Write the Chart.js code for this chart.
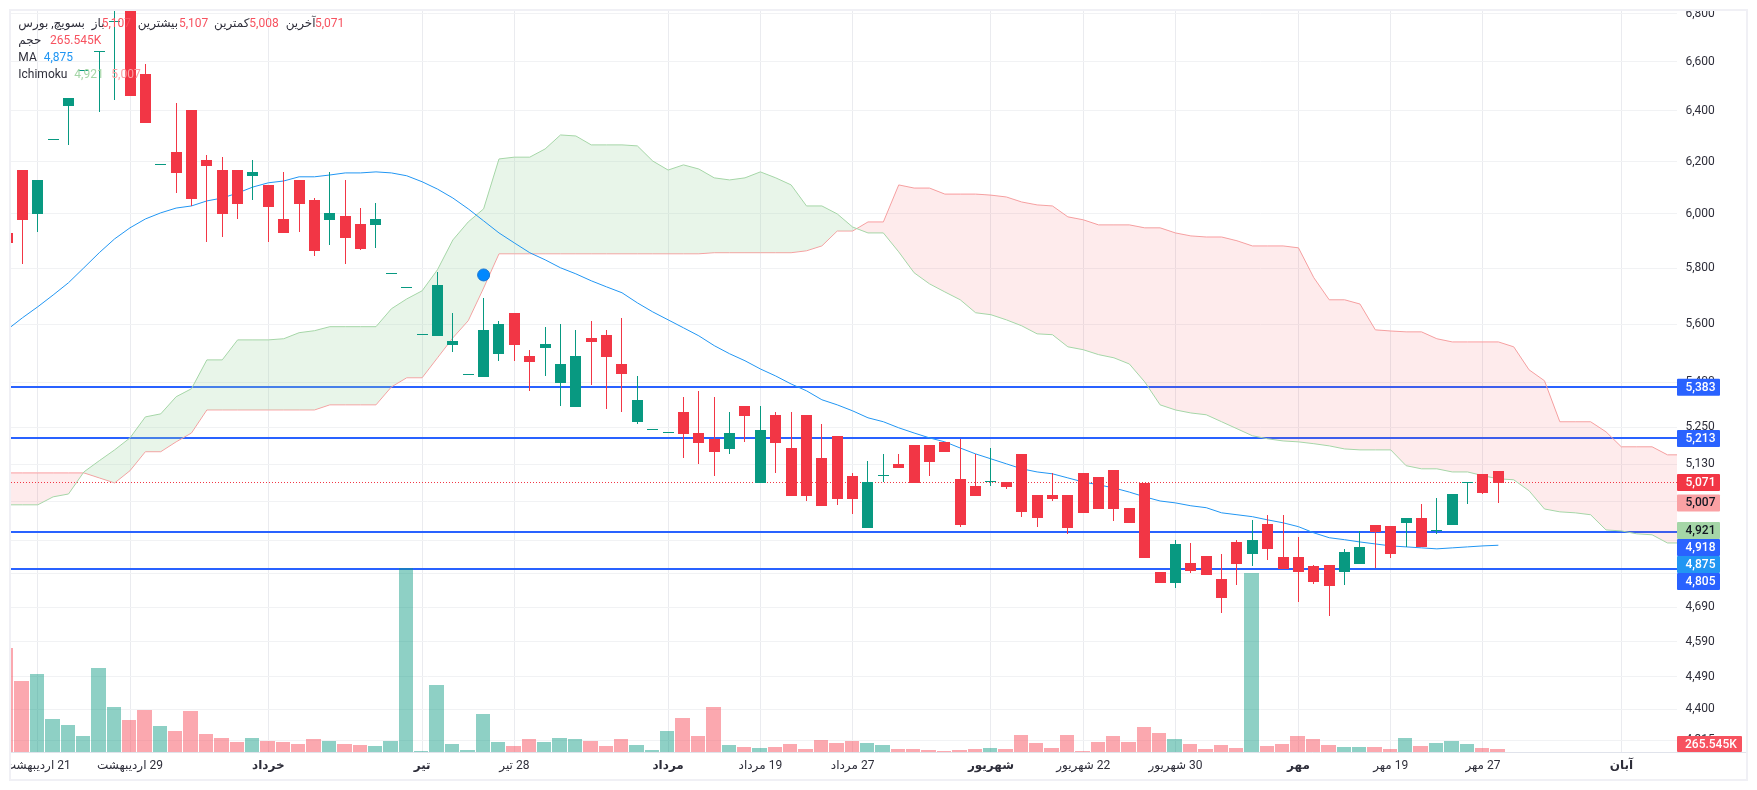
<!DOCTYPE html>
<html>
<head>
<meta charset="utf-8">
<style>
  html, body { margin: 0; padding: 0; background: #fff; }
  canvas { display: block; }
</style>
<script src="https://cdn.jsdelivr.net/npm/chart.js@4"></script>
</head>
<body>
<canvas id="priceChart" width="1757" height="790" dir="rtl"></canvas>
<script>
/* ----- candles, index 0 is the half hidden one on the left edge ----- */
const opens = [5929,6167,6000,6283,6420,6561,6639,6765,6900,6549,6185,6237,6403,6206,6167,6167,6145,6110,5981,6129,
  6052,5978,5993,5963,5959,5778,5728,5562,5559,5528,5424,5418,5497,5640,5490,5518,5398,5317,5552,5563,
  5462,5268,5241,5230,5301,5231,5212,5179,5321,5070,5291,5182,5291,5150,5222,5093,4930,5092,5131,5192,
  5192,5202,5083,5061,5072,5073,5163,5032,5032,5032,5102,5089,5112,4992,5070,4795,4763,4823,4844,4774,
  4886,4850,4942,4841,4841,4814,4817,4795,4820,4939,4936,4945,4961,4921,4939,5069,5099,5107];
const highs = [5960,6167,6129,6283,6452,6561,6639,6860,6900,6590,6185,6432,6403,6225,6217,6167,6206,6110,6160,6129,
  6060,6160,6129,6022,6041,5778,5728,5562,5786,5640,5424,5693,5612,5640,5511,5590,5601,5580,5612,5580,
  5622,5421,5241,5230,5351,5371,5351,5301,5321,5321,5301,5301,5291,5261,5222,5102,5141,5163,5163,5192,
  5192,5202,5212,5163,5182,5073,5163,5032,5102,5032,5102,5089,5112,4992,5070,4795,4893,4883,4844,4850,
  4893,4954,4970,4970,4902,4817,4817,4865,4920,4939,4936,4961,5004,5023,5035,5069,5099,5107];
const lows = [5870,5816,5933,6283,6265,6561,6396,6444,6460,6351,6185,6079,6030,5896,5914,5981,6052,5896,5929,5933,
  5845,5885,5816,5867,5874,5778,5728,5562,5559,5504,5424,5418,5473,5473,5371,5421,5321,5317,5391,5311,
  5301,5261,5241,5230,5150,5131,5093,5163,5202,5070,5102,5029,5013,4998,5001,4973,4930,5073,5118,5070,
  5093,5170,4933,5029,5061,5051,4964,4933,5013,4911,4976,4988,4951,4945,4838,4763,4748,4792,4786,4674,
  4757,4814,4832,4804,4706,4760,4665,4757,4820,4807,4838,4871,4871,4911,4939,5004,5035,5008];
const closes = [5892,5978,6129,6283,6452,6561,6639,6765,6460,6351,6185,6156,6056,6183,6000,6037,6160,6026,5929,6037,
  5863,6004,5910,5870,5981,5778,5728,5562,5739,5542,5424,5580,5601,5528,5469,5531,5462,5490,5538,5487,
  5428,5341,5241,5230,5228,5199,5170,5231,5287,5241,5199,5029,5029,4998,5019,5019,5073,5092,5118,5070,
  5137,5170,4939,5029,5072,5058,4979,4961,5019,4930,4976,4988,4988,4945,4838,4763,4880,4798,4786,4718,
  4820,4893,4865,4804,4795,4766,4754,4856,4871,4917,4850,4961,4871,4921,5035,5069,5038,5071];

/* ----- volume in thousands ----- */
const volumes = [9204,6284,6903,2921,2390,1416,7434,3983,2832,3717,2301,1859,3629,1593,1239,885,1239,974,885,708,
  1151,974,708,620,531,974,16314,89,5930,708,177,3363,885,531,1151,885,1239,1151,974,531,
  1151,620,177,1859,3009,1416,3983,620,443,354,443,708,266,1062,797,974,797,620,266,266,
  177,89,177,266,354,266,1505,797,354,1505,89,885,1416,885,2213,1682,1151,708,266,620,
  354,15842,531,708,1416,1151,620,443,443,443,266,1239,531,797,974,708,354,265.545];

/* ----- moving average ----- */
const maValues = [5580,5622,5661,5703,5747,5801,5856,5907,5948,5981,6004,6022,6030,6049,6060,6079,6102,6118,6125,6141,
  6141,6148,6156,6156,6160,6156,6145,6122,6094,6060,6019,5974,5929,5892,5856,5830,5801,5779,5754,5732,
  5711,5675,5643,5615,5587,5559,5525,5497,5473,5445,5421,5394,5371,5341,5324,5304,5281,5268,5248,5231,
  5215,5202,5182,5163,5147,5131,5115,5105,5099,5086,5073,5064,5054,5041,5026,5013,5007,4998,4992,4976,
  4970,4964,4954,4945,4933,4914,4899,4893,4886,4880,4874,4871,4868,4865,4868,4871,4874,4876];

/* ----- ichimoku cloud, runs ahead of the candles ----- */
const senkouA = [5001,5001,5001,5026,5035,5105,5141,5176,5215,5284,5294,5351,5378,5476,5476,5545,5545,5545,5549,5570,
  5577,5591,5591,5591,5591,5654,5689,5718,5794,5903,5970,6019,6210,6217,6217,6249,6304,6300,6265,6265,
  6265,6261,6202,6167,6187,6171,6137,6129,6137,6160,6137,6110,6030,6030,6000,5951,5929,5929,5859,5783,
  5743,5714,5686,5640,5633,5615,5594,5566,5563,5521,5511,5494,5483,5462,5401,5324,5307,5297,5291,5268,
  5245,5222,5212,5205,5202,5196,5189,5179,5176,5176,5176,5125,5115,5115,5105,5105,5093,5083,5080,5045,
  4988,4979,4976,4970,4923,4920,4911,4908,4883,4883];
const senkouB = [5102,5102,5102,5102,5102,5102,5086,5070,5109,5170,5170,5202,5231,5307,5307,5307,5307,5307,5307,5307,
  5307,5324,5324,5324,5324,5384,5415,5415,5483,5552,5612,5728,5852,5852,5852,5852,5852,5852,5852,5852,
  5852,5852,5852,5852,5852,5852,5856,5856,5856,5856,5856,5856,5863,5881,5936,5936,5970,5970,6110,6098,
  6098,6075,6075,6075,6071,6064,6045,6034,6030,5989,5978,5959,5959,5959,5948,5948,5929,5918,5914,5914,
  5900,5881,5881,5881,5874,5765,5686,5686,5671,5580,5576,5573,5573,5549,5538,5538,5538,5538,5521,5442,
  5405,5268,5268,5268,5235,5186,5186,5186,5160,5160];

/* ----- horizontal levels and side labels ----- */
const levelValues = [5383, 5213, 4918, 4805];
const lastClose = 5071;
const senkouALast = 4921;
const senkouBLast = 5007;
const maLast = 4875;
const lastVolumeLabel = '265.545K';
const markerIndex = [31];
const markerValue = [5775];

/* ----- axes ----- */
const priceTicks = [6800,6600,6400,6200,6000,5800,5600,5400,5250,5130,5010,4890,4790,4690,4590,4490,4400,4315];
const timeTickIndex = [2, 8, 17, 27, 33, 43, 49, 55, 64, 70, 76, 84, 90, 96, 105];
const timeTickLabels = ['21 اردیبهشت','29 اردیبهشت','خرداد','تیر','28 تیر','مرداد','19 مرداد','27 مرداد','شهریور','22 شهریور','30 شهریور','مهر','19 مهر','27 مهر','آبان'];
const timeTickBold = [17, 27, 43, 64, 84, 105];

const FONT = 'Roboto, "Noto Sans", "DejaVu Sans", sans-serif';
const UP = '#089981', DOWN = '#f23645';
const UP_VOL = 'rgba(8,153,129,0.46)', DOWN_VOL = 'rgba(247,82,95,0.5)';
const BLUE = '#2962ff';

const xMin = 0.26, xMax = 108.62;
const isUp = i => closes[i] >= opens[i];
const candleColors = opens.map((o, i) => isUp(i) ? UP : DOWN);
const volColors = opens.map((o, i) => isUp(i) ? UP_VOL : DOWN_VOL);
const series = arr => arr.map((y, x) => ({ x, y }));

/* tags on the price axis, pushed down when they would overlap */
function drawPriceTags(chart) {
  const { ctx, scales: { y } } = chart;
  const tags = [
    { v: levelValues[0], bg: BLUE, fg: '#fff' },
    { v: levelValues[1], bg: BLUE, fg: '#fff' },
    { v: lastClose, bg: DOWN, fg: '#fff' },
    { v: senkouBLast, bg: '#faa1a4', fg: '#131722' },
    { v: senkouALast, bg: '#a5d6a7', fg: '#131722' },
    { v: levelValues[2], bg: BLUE, fg: '#fff' },
    { v: maLast, bg: '#2196f3', fg: '#fff' },
    { v: levelValues[3], bg: BLUE, fg: '#fff' }
  ];
  const h = 17, left = chart.chartArea.right;
  let prev = -100;
  ctx.save();
  ctx.font = '500 12px ' + FONT;
  ctx.textAlign = 'left';
  ctx.textBaseline = 'middle';
  tags.forEach(t => {
    const c = Math.max(y.getPixelForValue(t.v), prev + h);
    prev = c;
    ctx.fillStyle = t.bg;
    ctx.beginPath();
    ctx.roundRect(left, c - h / 2, 43, h, 1);
    ctx.fill();
    ctx.fillStyle = t.fg;
    ctx.fillText(t.v.toLocaleString('en-US'), left + 8.5, c + 0.5);
  });
  // volume tag sits on the bottom edge
  const b = chart.chartArea.bottom;
  ctx.fillStyle = '#f7525f';
  ctx.beginPath();
  ctx.roundRect(left, b - 16, 65, 16, 1);
  ctx.fill();
  ctx.fillStyle = '#fff';
  ctx.fillText(lastVolumeLabel, left + 8, b - 7.5);
  ctx.restore();
}

/* top left legend */
function drawLegend(chart) {
  const { ctx } = chart;
  const dark = '#2e2e3a', red = '#f7525f';
  const rows = [
    [24, 'بسویچ, بورس', 18.3, dark], [24, 'باز', 91.7, dark], [24, '5,107', 101.7, red],
    [24, 'بیشترین', 137.7, dark], [24, '5,107', 179, red],
    [24, 'کمترین', 214, dark], [24, '5,008', 249.3, red],
    [24, 'آخرین', 285.7, dark], [24, '5,071', 315, red],
    [41, 'حجم', 18.3, dark], [41, lastVolumeLabel, 50, red],
    [58, 'MA', 18.3, dark], [58, '4,875', 43.7, '#2196f3'],
    [75, 'Ichimoku', 18.3, dark], [75, '4,921', 74.3, '#a5d6a7'], [75, '5,007', 111.3, '#faa1a4']
  ];
  ctx.save();
  ctx.font = '12px ' + FONT;
  ctx.textAlign = 'left';
  ctx.textBaseline = 'middle';
  rows.forEach(([ry, text, rx, color]) => {
    ctx.fillStyle = color;
    ctx.fillText(text, rx, ry);
  });
  ctx.restore();
}

const chromePlugin = {
  id: 'chrome',
  // snap bars and level lines to whole pixels so they stay crisp
  beforeDatasetsDraw(chart) {
    const step = chart.scales.x.getPixelForValue(1) - chart.scales.x.getPixelForValue(0);
    chart.data.datasets.forEach((ds, i) => {
      const els = chart.getDatasetMeta(i).data;
      if (ds.label === 'volume') {
        els.forEach(el => {
          const l = Math.floor(el.x - 7.5), r = Math.floor(el.x + step - 7.5) - 1;
          el.x = (l + r) / 2;
          el.width = r - l;
          el.y = Math.round(el.y);
        });
      } else if (ds.label === 'wick' || ds.label === 'body') {
        els.forEach(el => {
          el.x = Math.floor(el.x) + 0.5;
          const top = Math.round(Math.min(el.y, el.base));
          const bottom = Math.max(Math.round(Math.max(el.y, el.base)), ds.label === 'body' ? top + 1 : top);
          el.y = top;
          el.base = bottom;
        });
      } else if (ds.label === 'level') {
        els.forEach(el => { el.y = Math.round(el.y); });
      } else if (ds.label === 'last') {
        els.forEach(el => { el.y = Math.floor(el.y) + 0.5; });
      }
    });
  },
  afterDraw(chart) {
    const { ctx, chartArea } = chart;
    drawPriceTags(chart);
    drawLegend(chart);
    ctx.save();
    // things that stick out of the frame get cut off
    ctx.fillStyle = '#fff';
    ctx.fillRect(0, 0, 1757, 10);
    ctx.fillRect(0, 0, 10, 790);
    ctx.strokeStyle = '#e0e3eb';
    ctx.lineWidth = 1;
    ctx.beginPath();
    ctx.moveTo(chartArea.left, chartArea.bottom + 0.5);
    ctx.lineTo(1746, chartArea.bottom + 0.5);
    ctx.stroke();
    ctx.strokeStyle = '#f0f0f5';
    ctx.lineWidth = 2;
    ctx.strokeRect(10, 10, 1737, 770);
    ctx.restore();
  }
};

const levelDatasets = levelValues.map(v => ({
  type: 'line', label: 'level', data: [{ x: xMin, y: v }, { x: xMax, y: v }],
  borderColor: BLUE, borderWidth: 2, pointRadius: 0, order: 10, yAxisID: 'y'
}));

const datasets = [
  { type: 'line', label: 'Senkou A', data: series(senkouA), borderColor: '#a5d6a7', borderWidth: 1, pointRadius: 0,
    fill: { target: 1, above: 'rgba(165,214,167,0.25)', below: 'rgba(242,54,69,0.1)' }, order: 8, yAxisID: 'y' },
  { type: 'line', label: 'Senkou B', data: series(senkouB), borderColor: '#faa1a4', borderWidth: 1, pointRadius: 0,
    fill: false, order: 8, yAxisID: 'y' },
  ...levelDatasets,
  { type: 'line', label: 'last', data: [{ x: xMin, y: lastClose }, { x: xMax, y: lastClose }],
    borderColor: DOWN, borderWidth: 1, borderDash: [1, 2], pointRadius: 0, order: 9, yAxisID: 'y' },
  { type: 'line', label: 'MA', data: series(maValues), borderColor: '#2196f3', borderWidth: 1, pointRadius: 0, order: 7, yAxisID: 'y' },
  { type: 'bar', label: 'volume', data: series(volumes), backgroundColor: volColors, barThickness: 14.4, inflateAmount: 0, grouped: false, order: 6, yAxisID: 'yVol' },
  { type: 'bar', label: 'wick', data: lows.map((l, i) => ({ x: i, y: [l, highs[i]] })), backgroundColor: candleColors, barThickness: 1, inflateAmount: 0, grouped: false, order: 2, yAxisID: 'y' },
  { type: 'bar', label: 'body', data: opens.map((o, i) => ({ x: i, y: [o, closes[i]] })), backgroundColor: candleColors, barThickness: 11, inflateAmount: 0, minBarLength: 1, grouped: false, order: 1, yAxisID: 'y' },
  { type: 'line', label: 'marker', data: markerIndex.map((x, i) => ({ x, y: markerValue[i] })), showLine: false,
    pointRadius: 6, pointBackgroundColor: '#0088ff', pointBorderColor: '#1976d2', pointBorderWidth: 1, order: 0, yAxisID: 'y' }
];

new Chart(document.getElementById('priceChart').getContext('2d'), {
  type: 'bar',
  data: { datasets },
  plugins: [chromePlugin],
  options: {
    responsive: false,
    animation: false,
    devicePixelRatio: 1,
    layout: { padding: { left: 11, top: 10, right: 11, bottom: 11 } },
    plugins: { legend: { display: false }, tooltip: { enabled: false } },
    scales: {
      x: {
        type: 'linear', min: xMin, max: xMax, offset: false,
        grid: { offset: false, color: '#eaebef', drawTicks: false },
        border: { display: false },
        afterBuildTicks: s => { s.ticks = timeTickIndex.map(value => ({ value })); },
        // fixed box, labels near the edges must not shrink the plot
        afterFit: s => { s.height = 27; s.paddingLeft = 0; s.paddingRight = 0; },
        ticks: {
          autoSkip: false, maxRotation: 0, minRotation: 0, padding: 7, color: '#2e2e3a',
          font: c => ({ family: FONT, size: 12, weight: timeTickBold.includes(c.tick && c.tick.value) ? 'bold' : 'normal' }),
          callback: v => timeTickLabels[timeTickIndex.indexOf(v)]
        }
      },
      y: {
        type: 'logarithmic', position: 'right', min: 4284, max: 6817, bounds: 'data',
        grid: { color: '#f1f2f4', drawTicks: false },
        border: { display: false },
        afterBuildTicks: s => { s.ticks = priceTicks.map(value => ({ value })); },
        afterFit: s => { s.width = 69; s.paddingTop = 0; s.paddingBottom = 0; },
        ticks: {
          autoSkip: false, padding: 8.5, crossAlign: 'near', color: '#2e2e3a',
          font: { family: FONT, size: 12 },
          callback: v => v.toLocaleString('en-US')
        }
      },
      yVol: { type: 'linear', display: false, min: 0, max: 65667 }
    }
  }
});
</script>
</body>
</html>
